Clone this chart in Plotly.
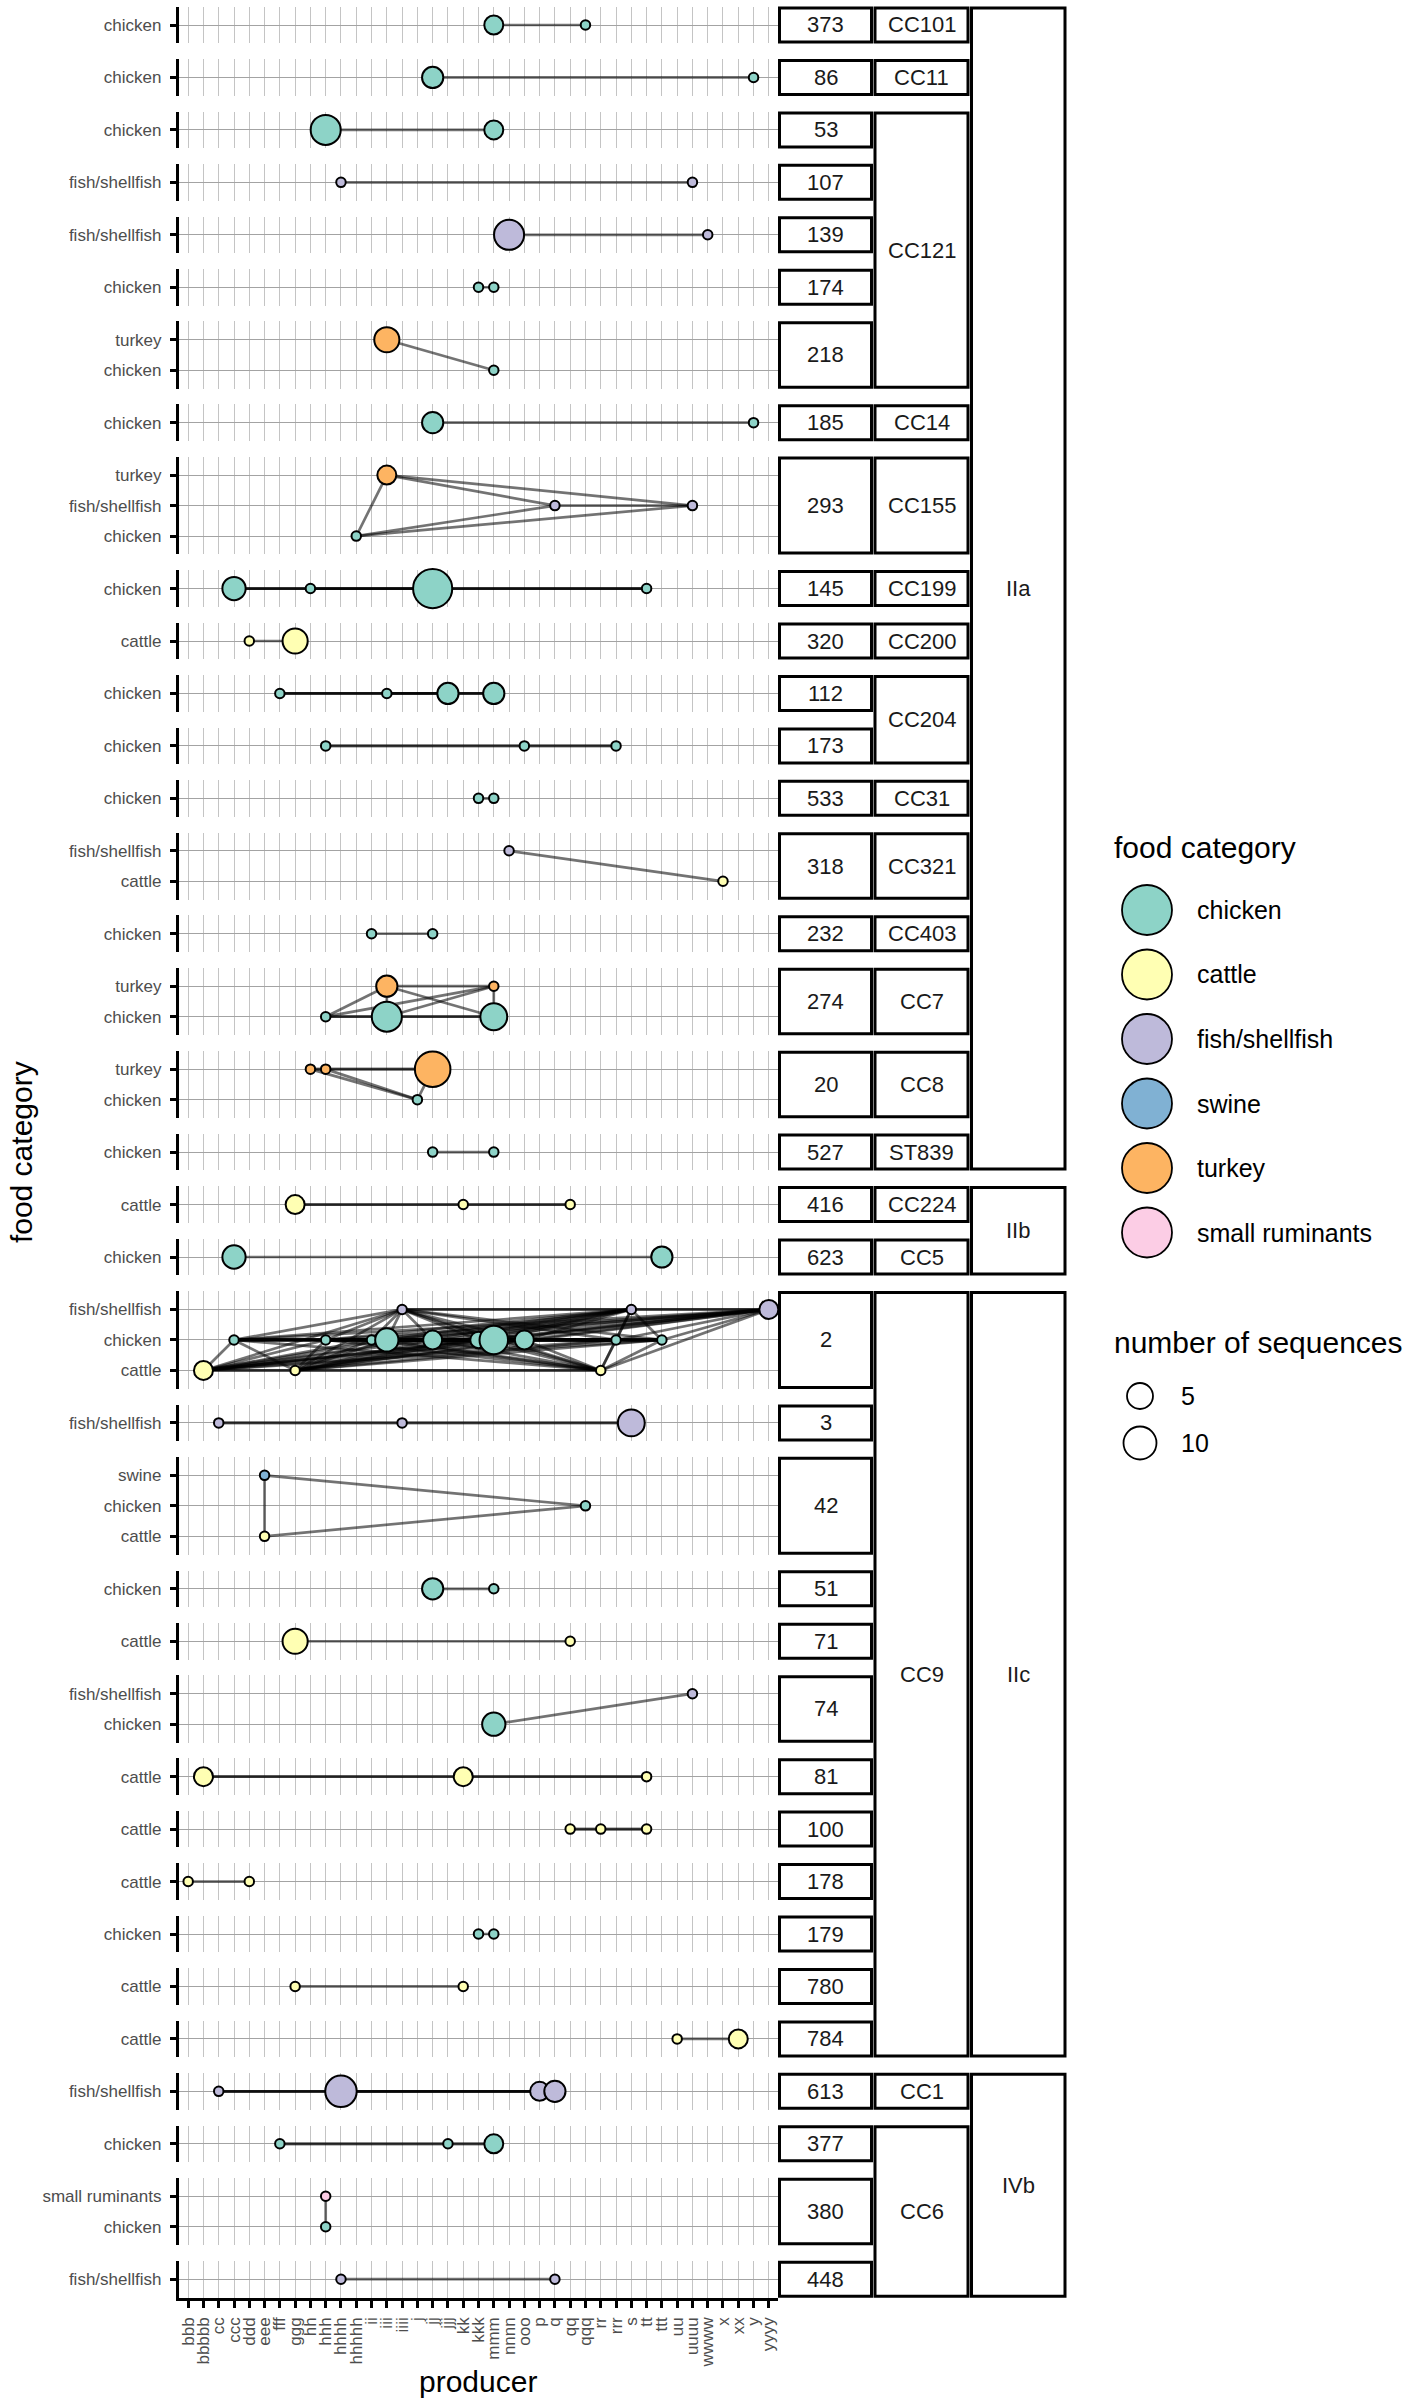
import itertools
import plotly.graph_objects as go

# ---------------- data ----------------
producers = ["bbb", "bbbbb", "cc", "ccc", "ddd", "eee", "fff", "ggg", "hh", "hhh",
             "hhhh", "hhhhh", "ii", "iii", "iiii", "j", "jj", "jjj", "kk", "kkk",
             "mmm", "nnnn", "ooo", "p", "q", "qq", "qqq", "rr", "rrr", "s",
             "tt", "ttt", "uu", "uuuu", "wwww", "x", "xx", "y", "yyyy"]

food_levels = ["chicken", "cattle", "fish/shellfish", "swine", "turkey", "small ruminants"]
food_colors = ["#8DD3C7", "#FFFFB3", "#BEBADA", "#80B1D3", "#FDB462", "#FCCDE5"]
y_level_order = ["cattle", "chicken", "fish/shellfish", "small ruminants", "swine", "turkey"]

panels = ["373", "86", "53", "107", "139", "174", "218", "185", "293", "145", "320",
          "112", "173", "533", "318", "232", "274", "20", "527",
          "416", "623",
          "2", "3", "42", "51", "71", "74", "81", "100", "178", "179", "780", "784",
          "613", "377", "380", "448"]
panel_cc = ["CC101", "CC11", "CC121", "CC121", "CC121", "CC121", "CC121", "CC14", "CC155",
            "CC199", "CC200", "CC204", "CC204", "CC31", "CC321", "CC403", "CC7", "CC8", "ST839",
            "CC224", "CC5",
            "CC9", "CC9", "CC9", "CC9", "CC9", "CC9", "CC9", "CC9", "CC9", "CC9", "CC9", "CC9",
            "CC1", "CC6", "CC6", "CC6"]
panel_lineage = ["IIa"] * 19 + ["IIb"] * 2 + ["IIc"] * 12 + ["IVb"] * 4

F = "fish/shellfish"
pt_panel = (["373"] * 2 + ["86"] * 2 + ["53"] * 2 + ["107"] * 2 + ["139"] * 2 + ["174"] * 2 +
            ["218"] * 2 + ["185"] * 2 + ["293"] * 4 + ["145"] * 4 + ["320"] * 2 + ["112"] * 4 +
            ["173"] * 3 + ["533"] * 2 + ["318"] * 2 + ["232"] * 2 + ["274"] * 5 + ["20"] * 4 +
            ["527"] * 2 + ["416"] * 3 + ["623"] * 2 + ["2"] * 16 + ["3"] * 3 + ["42"] * 3 +
            ["51"] * 2 + ["71"] * 2 + ["74"] * 2 + ["81"] * 3 + ["100"] * 3 + ["178"] * 2 +
            ["179"] * 2 + ["780"] * 2 + ["784"] * 2 + ["613"] * 4 + ["377"] * 3 + ["380"] * 2 +
            ["448"] * 2)
pt_food = ["chicken", "chicken",                      # 373
           "chicken", "chicken",                      # 86
           "chicken", "chicken",                      # 53
           F, F,                                      # 107
           F, F,                                      # 139
           "chicken", "chicken",                      # 174
           "turkey", "chicken",                       # 218
           "chicken", "chicken",                      # 185
           "turkey", F, F, "chicken",                 # 293
           "chicken", "chicken", "chicken", "chicken",  # 145
           "cattle", "cattle",                        # 320
           "chicken", "chicken", "chicken", "chicken",  # 112
           "chicken", "chicken", "chicken",           # 173
           "chicken", "chicken",                      # 533
           F, "cattle",                               # 318
           "chicken", "chicken",                      # 232
           "turkey", "turkey", "chicken", "chicken", "chicken",  # 274
           "turkey", "turkey", "turkey", "chicken",   # 20
           "chicken", "chicken",                      # 527
           "cattle", "cattle", "cattle",              # 416
           "chicken", "chicken",                      # 623
           "cattle", "chicken", "cattle", "chicken", "chicken", "chicken", F, "chicken",
           "chicken", "chicken", "chicken", "cattle", "chicken", F, "chicken", F,  # 2
           F, F, F,                                   # 3
           "swine", "cattle", "chicken",              # 42
           "chicken", "chicken",                      # 51
           "cattle", "cattle",                        # 71
           "chicken", F,                              # 74
           "cattle", "cattle", "cattle",              # 81
           "cattle", "cattle", "cattle",              # 100
           "cattle", "cattle",                        # 178
           "chicken", "chicken",                      # 179
           "cattle", "cattle",                        # 780
           "cattle", "cattle",                        # 784
           F, F, F, F,                                # 613
           "chicken", "chicken", "chicken",           # 377
           "small ruminants", "chicken",              # 380
           F, F]                                      # 448
pt_producer = ["mmm", "qqq",
               "jj", "y",
               "hhh", "mmm",
               "hhhh", "uuuu",
               "nnnn", "wwww",
               "kkk", "mmm",
               "iii", "mmm",
               "jj", "y",
               "iii", "q", "uuuu", "hhhhh",
               "ccc", "hh", "jj", "tt",
               "ddd", "ggg",
               "fff", "iii", "jjj", "mmm",
               "hhh", "ooo", "rrr",
               "kkk", "mmm",
               "nnnn", "x",
               "ii", "jj",
               "iii", "mmm", "hhh", "iii", "mmm",
               "hh", "hhh", "jj", "j",
               "jj", "mmm",
               "ggg", "kk", "qq",
               "ccc", "ttt",
               "bbbbb", "ccc", "ggg", "hhh", "ii", "iii", "iiii", "jj",
               "kkk", "mmm", "ooo", "rr", "rrr", "s", "ttt", "yyyy",
               "cc", "iiii", "s",
               "eee", "eee", "qqq",
               "jj", "mmm",
               "ggg", "qq",
               "mmm", "uuuu",
               "bbbbb", "kk", "tt",
               "qq", "rr", "tt",
               "bbb", "ddd",
               "kkk", "mmm",
               "ggg", "kk",
               "uu", "xx",
               "cc", "hhhh", "p", "q",
               "fff", "jjj", "mmm",
               "hhh", "hhh",
               "hhhh", "q"]
pt_n = [4, 1,
        5, 1,
        10, 4,
        1, 1,
        10, 1,
        1, 1,
        7, 1,
        5, 1,
        4, 1, 1, 1,
        6, 1, 17, 1,
        1, 7,
        1, 1, 5, 5,
        1, 1, 1,
        1, 1,
        1, 1,
        1, 1,
        5, 1, 1, 10, 8,
        1, 1, 14, 1,
        1, 1,
        4, 1, 1,
        6, 5,
        4, 1, 1, 1, 1, 6, 1, 4,
        3, 9, 4, 1, 1, 1, 1, 4,
        1, 1, 8,
        1, 1, 1,
        5, 1,
        7, 1,
        6, 1,
        4, 4, 1,
        1, 1, 1,
        1, 1,
        1, 1,
        1, 1,
        1, 4,
        1, 11, 4, 5,
        1, 1, 4,
        1, 1,
        1, 1]
size_breaks = [5, 10]

assert len(pt_panel) == len(pt_food) == len(pt_producer) == len(pt_n)

# ---------------- geometry / style ----------------
W, H = 1418, 2403
PX0, PX1 = 179.0, 778.0
TOP, UNIT, GAP, EXP = 6.7, 30.5, 15.85, 0.6
STRIP_COLS = [(779.5, 871.5), (875.0, 968.0), (971.5, 1065.0)]
FONT = "Liberation Sans, Arial, Helvetica, sans-serif"
XGRID = "#c4c4c4"
YGRID = "#a3a3a3"
TICKTXT = "#4d4d4d"
color_of = dict(zip(food_levels, food_colors))


def diam(n):
    return 9.5 + 9.5 * (n ** 0.5 - 1.0)


# categories present in each panel (bottom-to-top order)
cats = {}
for p in panels:
    present = {f for pp, f in zip(pt_panel, pt_food) if pp == p}
    cats[p] = [f for f in y_level_order if f in present]

# panel vertical extents in pixels (top, bottom)
ext = {}
cur = TOP
for p in panels:
    h = (len(cats[p]) - 1 + 2 * EXP) * UNIT
    ext[p] = (cur, cur + h)
    cur += h + GAP
stack_bottom = cur - GAP


def fy(px):
    return 1.0 - px / H


def fx(px):
    return px / W


fig = go.Figure()
layout = dict(
    width=W, height=H,
    margin=dict(l=0, r=0, t=0, b=0, pad=0, autoexpand=False),
    paper_bgcolor="white", plot_bgcolor="white",
    showlegend=False,
    font=dict(family=FONT, color="black"),
)

for k, p in enumerate(panels):
    sfx = "" if k == 0 else str(k + 1)
    xa, ya = "x" + sfx, "y" + sfx
    last = (k == len(panels) - 1)
    top, bot = ext[p]
    n = len(cats[p])
    layout["xaxis" + sfx] = dict(
        type="category", categoryorder="array", categoryarray=producers,
        tickmode="array", tickvals=producers, ticktext=producers,
        range=[-EXP, len(producers) - 1 + EXP],
        domain=[fx(PX0), fx(PX1)], anchor=ya,
        showgrid=True, gridcolor=XGRID, gridwidth=1.2, zeroline=False,
        showline=last, linecolor="black", linewidth=3,
        ticks="outside" if last else "", ticklen=7, tickwidth=2.6, tickcolor="black",
        showticklabels=last, tickangle=-90, ticklabelstandoff=3,
        tickfont=dict(size=17, color=TICKTXT, family=FONT),
        automargin=False, fixedrange=True,
    )
    layout["yaxis" + sfx] = dict(
        type="category", categoryorder="array", categoryarray=cats[p],
        tickmode="array", tickvals=cats[p], ticktext=cats[p],
        range=[-EXP, n - 1 + EXP],
        domain=[fy(bot), fy(top)], anchor=xa,
        showgrid=True, gridcolor=YGRID, gridwidth=1, zeroline=False,
        showline=True, linecolor="black", linewidth=3.2,
        ticks="outside", ticklen=6, tickwidth=2.6, tickcolor="black",
        ticklabelstandoff=5,
        tickfont=dict(size=17, color=TICKTXT, family=FONT),
        automargin=False, fixedrange=True,
    )

    idx = [i for i, pp in enumerate(pt_panel) if pp == p]
    # connecting lines: every pair of points in the panel
    for i, j in itertools.combinations(idx, 2):
        fig.add_trace(go.Scatter(
            x=[pt_producer[i], pt_producer[j]], y=[pt_food[i], pt_food[j]],
            mode="lines", line=dict(color="rgba(0,0,0,0.55)", width=2.7),
            xaxis=xa, yaxis=ya, hoverinfo="skip", cliponaxis=False))
    order = sorted(idx, key=lambda i: producers.index(pt_producer[i]))
    fig.add_trace(go.Scatter(
        x=[pt_producer[i] for i in order], y=[pt_food[i] for i in order],
        mode="markers",
        marker=dict(size=[diam(pt_n[i]) for i in order],
                    color=[color_of[pt_food[i]] for i in order],
                    line=dict(color="black", width=2), opacity=1),
        xaxis=xa, yaxis=ya, cliponaxis=False,
        text=[f"{pt_food[i]} / {pt_producer[i]}: {pt_n[i]}" for i in order],
        hoverinfo="text"))

fig.update_layout(**layout)

# ---------------- strips ----------------
shapes, annotations = [], []


def runs(labels):
    out, start = [], 0
    for i in range(1, len(labels) + 1):
        if i == len(labels) or labels[i] != labels[start]:
            out.append((labels[start], start, i - 1))
            start = i
    return out


for col, labels in enumerate([panels, panel_cc, panel_lineage]):
    x0, x1 = STRIP_COLS[col]
    for lab, a, b in runs(labels):
        top = ext[panels[a]][0] + 1.3
        bot = ext[panels[b]][1] - 1.3
        shapes.append(dict(type="rect", xref="paper", yref="paper",
                           x0=fx(x0), x1=fx(x1), y0=fy(bot), y1=fy(top),
                           line=dict(color="black", width=3), fillcolor="white", layer="above"))
        annotations.append(dict(text=lab, xref="paper", yref="paper",
                                x=fx((x0 + x1) / 2), y=fy((top + bot) / 2),
                                xanchor="center", yanchor="middle", showarrow=False,
                                font=dict(size=22, color="#1a1a1a", family=FONT)))

# ---------------- axis titles ----------------
annotations.append(dict(text="producer", xref="paper", yref="paper",
                        x=fx((PX0 + PX1) / 2), y=fy(2381), xanchor="center", yanchor="middle",
                        showarrow=False, font=dict(size=30, color="black", family=FONT)))
annotations.append(dict(text="food category", xref="paper", yref="paper",
                        x=fx(21), y=fy((TOP + stack_bottom) / 2), xanchor="center",
                        yanchor="middle", textangle=-90, showarrow=False,
                        font=dict(size=30, color="black", family=FONT)))

# ---------------- legends ----------------
LEG_X = 1112
annotations.append(dict(text="food category", xref="paper", yref="paper",
                        x=fx(LEG_X), y=fy(847), xanchor="left", yanchor="middle",
                        showarrow=False, font=dict(size=30, color="black", family=FONT)))
for i, (lab, col) in enumerate(zip(food_levels, food_colors)):
    cy, cx, r = 910 + 64.5 * i, 1147, 25
    shapes.append(dict(type="circle", xref="paper", yref="paper",
                       x0=fx(cx - r), x1=fx(cx + r), y0=fy(cy + r), y1=fy(cy - r),
                       fillcolor=col, line=dict(color="black", width=1.8), layer="above"))
    annotations.append(dict(text=lab, xref="paper", yref="paper",
                            x=fx(1195), y=fy(cy), xanchor="left", yanchor="middle",
                            showarrow=False, font=dict(size=25, color="black", family=FONT)))

annotations.append(dict(text="number of sequences", xref="paper", yref="paper",
                        x=fx(LEG_X), y=fy(1342), xanchor="left", yanchor="middle",
                        showarrow=False, font=dict(size=30, color="black", family=FONT)))
legend_key_diam = {5: 26, 10: 33}
for i, b in enumerate(size_breaks):
    cy, cx, r = 1396 + 47 * i, 1140, legend_key_diam[b] / 2
    shapes.append(dict(type="circle", xref="paper", yref="paper",
                       x0=fx(cx - r), x1=fx(cx + r), y0=fy(cy + r), y1=fy(cy - r),
                       fillcolor="white", line=dict(color="black", width=1.8), layer="above"))
    annotations.append(dict(text=str(b), xref="paper", yref="paper",
                            x=fx(1179), y=fy(cy), xanchor="left", yanchor="middle",
                            showarrow=False, font=dict(size=25, color="black", family=FONT)))

fig.update_layout(shapes=shapes, annotations=annotations)

fig.write_html("out.html", config={"displayModeBar": False},
               post_script="document.body.style.margin='0px';")
